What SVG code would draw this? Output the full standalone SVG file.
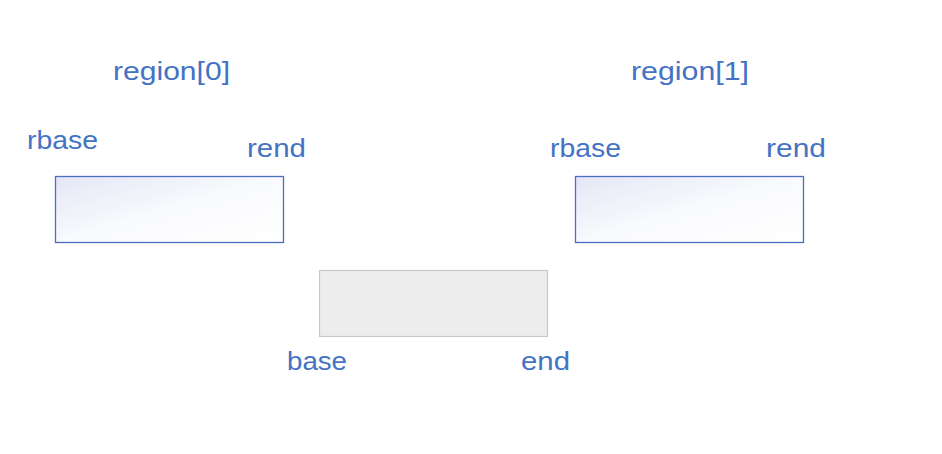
<svg xmlns="http://www.w3.org/2000/svg" width="942" height="454" viewBox="0 0 942 454">
<style>
.t{font-family:"Liberation Sans","Open Sans",Arial,sans-serif;font-size:26px;fill:#4472C4}
.r{fill:url(#g);stroke:#4A6FC0;stroke-width:1.3}
.m{fill:#EDEDED;stroke:#C8C8C8;stroke-width:1.2}
</style>
<defs>
<linearGradient id="g" x1="0" y1="0" x2="1" y2="1">
<stop offset="0" stop-color="#E4E6F5"/>
<stop offset="0.5" stop-color="#F9FAFD"/>
<stop offset="1" stop-color="#FFFFFF"/>
</linearGradient>
</defs>
<rect width="942" height="454" fill="#FFFFFF"/>
<g id="region0">
<rect class="r" x="55.5" y="176.5" width="228" height="66"/>
<text class="t" x="113" y="80" textLength="117" lengthAdjust="spacingAndGlyphs">region[0]</text>
<text class="t" x="27" y="149" textLength="71" lengthAdjust="spacingAndGlyphs">rbase</text>
<text class="t" x="247" y="157" textLength="59" lengthAdjust="spacingAndGlyphs">rend</text>
</g>
<g id="region1">
<rect class="r" x="575.5" y="176.5" width="228" height="66"/>
<text class="t" x="631" y="80" textLength="118" lengthAdjust="spacingAndGlyphs">region[1]</text>
<text class="t" x="550" y="157" textLength="71" lengthAdjust="spacingAndGlyphs">rbase</text>
<text class="t" x="766" y="157" textLength="60" lengthAdjust="spacingAndGlyphs">rend</text>
</g>
<g id="memory">
<rect class="m" x="319.5" y="270.5" width="228" height="66"/>
<text class="t" x="287" y="370" textLength="60" lengthAdjust="spacingAndGlyphs">base</text>
<text class="t" x="521" y="370" textLength="49" lengthAdjust="spacingAndGlyphs">end</text>
</g>
<g id="connectors"></g>
</svg>
